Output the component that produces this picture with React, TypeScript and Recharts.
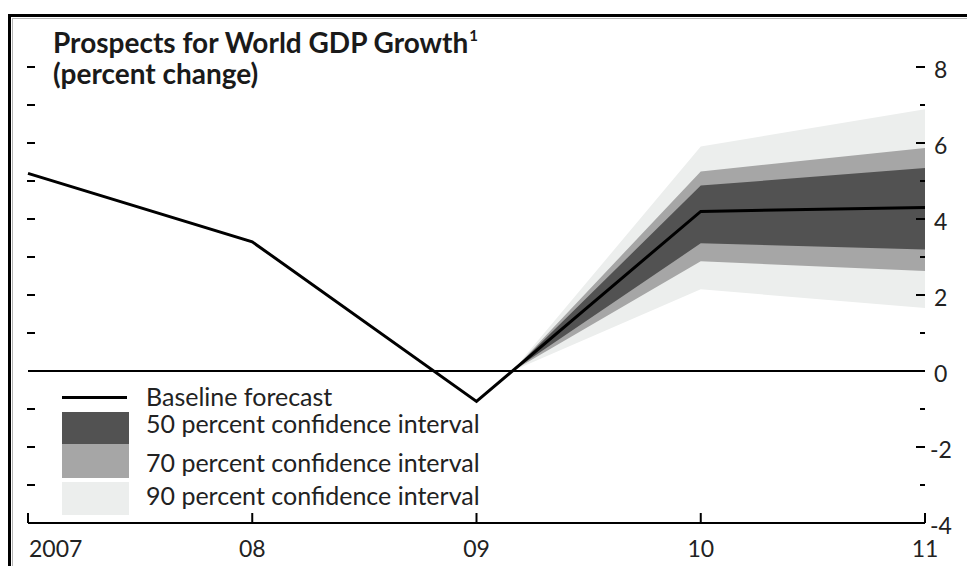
import React from "react";
import { ComposedChart, Line, Area, XAxis, YAxis, ReferenceLine } from "recharts";

// ---------- data ----------
const years = [2007, 2008, 2009, 2010, 2011];
const yearLabels = ["2007", "08", "09", "10", "11"];
const baseline = [5.2, 3.4, -0.8, 4.2, 4.3];

// fan chart: starts where the forecast crosses zero, widens to 2010 and 2011
const fanStartYear = 2009.16;
const fanStartValue = 0;
const fanYears = [2010, 2011];
const ci50Low = [3.36, 3.2];
const ci50High = [4.88, 5.34];
const ci70Low = [2.89, 2.63];
const ci70High = [5.25, 5.87];
const ci90Low = [2.15, 1.66];
const ci90High = [5.91, 6.89];

const yTicks = [-4, -3, -2, -1, 0, 1, 2, 3, 4, 5, 6, 7, 8];
const yLabelled = [-4, -2, 0, 2, 4, 6, 8];

const title = "Prospects for World GDP Growth";
const titleNote = "1";
const subtitle = "(percent change)";
const legendLabels = [
  "Baseline forecast",
  "50 percent confidence interval",
  "70 percent confidence interval",
  "90 percent confidence interval",
];

// ---------- build table ----------
type Row = {
  year: number;
  baseline?: number;
  ci50?: [number, number];
  ci70?: [number, number];
  ci90?: [number, number];
};
const rows: Row[] = years.map((y, i) => ({ year: y, baseline: baseline[i] }));
rows.push({
  year: fanStartYear,
  ci50: [fanStartValue, fanStartValue],
  ci70: [fanStartValue, fanStartValue],
  ci90: [fanStartValue, fanStartValue],
});
fanYears.forEach((fy, i) => {
  const r = rows.find((row) => row.year === fy)!;
  r.ci50 = [ci50Low[i], ci50High[i]];
  r.ci70 = [ci70Low[i], ci70High[i]];
  r.ci90 = [ci90Low[i], ci90High[i]];
});
rows.sort((a, b) => a.year - b.year);

// ---------- styles ----------
const COLORS = { c50: "#525252", c70: "#a6a6a6", c90: "#eceeed", line: "#000" };
const TEXT_FONT = "Lato, 'Liberation Sans Narrow', sans-serif";
const TITLE_FONT = "Lato, 'Open Sans', sans-serif";
const PLOT_LEFT = 28;

const XTick = (props: any) => {
  const { x, y, payload, index } = props;
  const i = years.indexOf(payload.value);
  return (
    <g>
      <line x1={x} y1={y} x2={x} y2={y - 10} stroke="#000" strokeWidth={2} />
      <text
        x={index === 0 ? x + 1 : x}
        y={y + 34}
        textAnchor={index === 0 ? "start" : "middle"}
        fontFamily={TEXT_FONT}
        fontSize={23}
        fill="#222"
      >
        {i >= 0 ? yearLabels[i] : payload.value}
      </text>
    </g>
  );
};

const YTick = (props: any) => {
  const { x, y, payload } = props;
  const v = payload.value as number;
  const labelled = yLabelled.includes(v);
  const showLines = v !== -4 && v !== 0;
  return (
    <g>
      {showLines && (
        <line
          x1={x - (labelled ? 9 : 5)}
          y1={y}
          x2={x}
          y2={y}
          stroke="#000"
          strokeWidth={2}
        />
      )}
      {showLines && (
        <line x1={PLOT_LEFT - 1} y1={y} x2={PLOT_LEFT + 7} y2={y} stroke="#000" strokeWidth={2} />
      )}
      {labelled && (
        <text
          x={x + (v < 0 ? 5 : 9)}
          y={y + 11}
          textAnchor="start"
          fontFamily={TEXT_FONT}
          fontSize={23}
          fill="#222"
        >
          {String(v)}
        </text>
      )}
    </g>
  );
};

const legendItems = [
  { kind: "line", color: COLORS.line, top: 396, h: 3, textY: 406 },
  { kind: "box", color: COLORS.c50, top: 412, h: 32, textY: 433 },
  { kind: "box", color: COLORS.c70, top: 444, h: 34, textY: 472 },
  { kind: "box", color: COLORS.c90, top: 482, h: 33, textY: 505 },
];

export default function App() {
  return (
    <div
      style={{
        position: "fixed",
        left: 0,
        top: 0,
        width: 967,
        height: 566,
        overflow: "hidden",
        background: "#fff",
      }}
    >
      <div
        style={{
          position: "absolute",
          left: 8,
          top: 14,
          width: 1000,
          height: 700,
          border: "3px solid #000",
          boxSizing: "border-box",
        }}
      />
      <div
        style={{
          position: "absolute",
          left: 12,
          top: 18,
          width: 1000,
          height: 700,
          border: "1px solid #b5b5b5",
          boxSizing: "border-box",
        }}
      />
      <div style={{ position: "absolute", left: 0, top: 0 }}>
        <ComposedChart
          width={967}
          height={566}
          data={rows}
          margin={{ top: 67, right: 0, bottom: 0, left: PLOT_LEFT }}
        >
          <XAxis
            dataKey="year"
            type="number"
            domain={[2007, 2011]}
            ticks={years}
            interval={0}
            height={43}
            axisLine={{ stroke: "#000", strokeWidth: 2 }}
            tickLine={false}
            tickSize={0}
            tickMargin={0}
            tick={<XTick />}
          />
          <YAxis
            orientation="right"
            type="number"
            domain={[-4, 8]}
            ticks={yTicks}
            interval={0}
            width={42}
            axisLine={false}
            tickLine={false}
            tickSize={0}
            tickMargin={0}
            tick={<YTick />}
          />
          <Area
            dataKey="ci90"
            type="linear"
            stroke="none"
            fill={COLORS.c90}
            fillOpacity={1}
            isAnimationActive={false}
            dot={false}
            activeDot={false}
          />
          <Area
            dataKey="ci70"
            type="linear"
            stroke="none"
            fill={COLORS.c70}
            fillOpacity={1}
            isAnimationActive={false}
            dot={false}
            activeDot={false}
          />
          <Area
            dataKey="ci50"
            type="linear"
            stroke="none"
            fill={COLORS.c50}
            fillOpacity={1}
            isAnimationActive={false}
            dot={false}
            activeDot={false}
          />
          <ReferenceLine y={0} stroke="#000" strokeWidth={2} />
          <Line
            dataKey="baseline"
            type="linear"
            stroke={COLORS.line}
            strokeWidth={3}
            dot={false}
            activeDot={false}
            connectNulls
            isAnimationActive={false}
          />
        </ComposedChart>
      </div>
      <svg
        width={967}
        height={566}
        style={{ position: "absolute", left: 0, top: 0, pointerEvents: "none" }}
      >
        <text x={53} y={53} fontFamily={TITLE_FONT} fontWeight={700} fontSize={28} fill="#1a1a1a">
          {title}
          <tspan fontSize={15} dy={-12} dx={1}>
            {titleNote}
          </tspan>
        </text>
        <text x={53} y={84} fontFamily={TITLE_FONT} fontWeight={700} fontSize={28} fill="#1a1a1a">
          {subtitle}
        </text>
        {legendItems.map((it, i) => (
          <g key={i}>
            <rect x={62} y={it.top} width={it.kind === "line" ? 65 : 67} height={it.h} fill={it.color} />
            <text x={146} y={it.textY} fontFamily={TEXT_FONT} fontSize={25} fill="#222">
              {legendLabels[i]}
            </text>
          </g>
        ))}
      </svg>
    </div>
  );
}
